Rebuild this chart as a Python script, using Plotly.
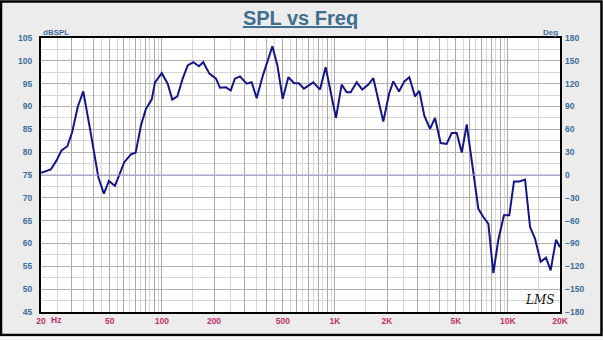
import numpy as np
import plotly.graph_objects as go

# ---- data ----
freq_hz = [20, 22.8, 24.6, 26.3, 28.4, 30.3, 32.6, 35.1, 38.4, 42.9, 46.2, 49.4, 53.5,
           60.6, 66.2, 70.5, 75.7, 80.9, 87.3, 91.2, 99.8, 108, 114.8, 122.7, 131.8,
           141, 151.8, 163.7, 173.4, 188, 205.4, 216.6, 234.6, 249.8, 264, 282.5, 309,
           330, 353, 382, 435, 465, 499, 538, 582, 619, 662, 750, 820, 884, 1014, 1094,
           1169, 1233, 1337, 1439, 1560, 1667, 1904, 2056, 2175, 2346, 2518, 2692, 2904,
           3076, 3286, 3546, 3790, 4084, 4426, 4732, 5058, 5408, 5780, 6180, 6746, 7212,
           7710, 8234, 8790, 9486, 10186, 10840, 11640, 12560, 13430, 14340, 15460,
           16600, 17660, 18960, 20000]
spl_db = [75.5, 76.2, 78.2, 80.4, 81.3, 84.4, 89.9, 93.3, 85.1, 74.5, 70.9, 73.7, 72.6,
          77.8, 79.5, 79.9, 85.9, 89.5, 91.5, 95.3, 97.3, 95.0, 91.5, 92.2, 96.1,
          99.0, 99.7, 98.8, 99.7, 97.2, 96.1, 94.1, 94.2, 93.5, 96.1, 96.6, 95.0,
          95.3, 91.8, 96.6, 103.2, 99.0, 91.7, 96.4, 95.1, 95.1, 93.9, 95.3, 93.7, 98.6,
          87.5, 94.8, 93.1, 93.1, 95.3, 93.7, 94.8, 96.2, 86.7, 92.8, 95.5, 93.3, 95.5,
          96.4, 92.2, 93.4, 88.0, 85.1, 87.5, 82.0, 81.8, 84.2, 84.2, 79.9, 86.1, 78.2,
          67.6, 65.8, 64.3, 53.5, 60.7, 66.2, 66.2, 73.6, 73.6, 74.0, 63.6, 61.1, 56.0,
          56.9, 54.1, 60.8, 59.2]

x_label_vals = [20, 50, 100, 200, 500, 1000, 2000, 5000, 10000, 20000]
x_label_text = ["20", "50", "100", "200", "500", "1K", "2K", "5K", "10K", "20K"]
spl_ticks = list(range(45, 106, 5))
deg_ticks = list(range(-180, 181, 30))
phase_ref_deg = 0

# grid values: integer multiples (major) and half multiples (minor) per decade
decades = [10, 100, 1000, 10000]
major_grid = sorted({m * d for d in decades for m in range(1, 10) if 20 <= m * d <= 20000})
minor_grid = sorted({(m + 0.5) * d for d in decades for m in range(1, 10) if 20 <= (m + 0.5) * d <= 20000})
x_text = [x_label_text[x_label_vals.index(v)] if v in x_label_vals else "" for v in major_grid]

BLUE = "#3a6d9c"
RED = "#c2306c"
FONT = "Liberation Sans, Arial, sans-serif"

fig = go.Figure()
fig.add_trace(go.Scatter(x=[freq_hz[0], freq_hz[-1]], y=[phase_ref_deg, phase_ref_deg],
                         yaxis="y2", mode="lines", line=dict(color="#a3a3dc", width=1),
                         hoverinfo="skip"))
fig.add_trace(go.Scatter(x=freq_hz, y=spl_db, mode="lines",
                         line=dict(color="#15158a", width=2)))

fig.update_layout(
    width=603, height=340,
    margin=dict(l=41, r=43, t=37.5, b=28),
    paper_bgcolor="#ececec", plot_bgcolor="#ffffff",
    showlegend=False,
    title=dict(text="<b><u>SPL vs Freq</u></b>", x=0.5, xanchor="center", xref="paper",
               y=0.947, yanchor="middle", yref="container",
               font=dict(family=FONT, size=20, color="#3e6f8e")),
    xaxis=dict(type="log", range=[np.log10(20), np.log10(20000)],
               tickmode="array", tickvals=major_grid, ticktext=x_text,
               tickfont=dict(family=FONT, size=8.5, color=RED, weight="bold"),
               showgrid=True, gridcolor="#a9a9a9", gridwidth=1,
               minor=dict(tickmode="array", tickvals=minor_grid, showgrid=True,
                          gridcolor="#d6d6d6", gridwidth=1, ticks=""),
               ticks="", showline=True, linecolor="#000000", linewidth=2, mirror=True,
               zeroline=False, ticklabelstandoff=0),
    yaxis=dict(range=[45, 105], tickmode="array", tickvals=spl_ticks,
               tickfont=dict(family=FONT, size=8.5, color=BLUE, weight="bold"),
               showgrid=True, gridcolor="#b0b0b0", gridwidth=1,
               minor=dict(dtick=2.5, showgrid=True, gridcolor="#d6d6d6", gridwidth=1, ticks=""),
               ticks="", showline=True, linecolor="#000000", linewidth=2, mirror=True,
               zeroline=False, ticklabelstandoff=5),
    yaxis2=dict(range=[-180, 180], overlaying="y", side="right", tickmode="array",
                tickvals=deg_ticks, showgrid=False, zeroline=False, ticks="",
                tickfont=dict(family=FONT, size=8.5, color=BLUE, weight="bold"),
                ticklabelstandoff=4),
    hovermode=False,
)

fig.add_annotation(text="<b>Hz</b>", xref="paper", yref="paper", x=0.029, y=-0.03,
                   xanchor="center", yanchor="middle", showarrow=False,
                   font=dict(family=FONT, size=8.5, color=RED))
fig.add_annotation(text="<b>dBSPL</b>", xref="paper", yref="paper", x=0.0, y=1.02,
                   xanchor="left", yanchor="middle", showarrow=False,
                   font=dict(family=FONT, size=8, color=BLUE))
fig.add_annotation(text="<b>Deg</b>", xref="paper", yref="paper", x=1.0, y=1.02,
                   xanchor="right", yanchor="middle", showarrow=False,
                   font=dict(family=FONT, size=8, color=BLUE))
fig.add_annotation(text="<i>LMS</i>", xref="paper", yref="paper", x=0.961, y=0.045,
                   xanchor="center", yanchor="middle", showarrow=False,
                   font=dict(family="DejaVu Serif, serif", size=12, color="#111111"))

# outer frame of the picture
fig.add_shape(type="rect", xref="paper", yref="paper",
              x0=(1 - 41) / 519, x1=(601.5 - 41) / 519,
              y0=(312 - 335) / 274.5, y1=(312 - 1) / 274.5,
              line=dict(color="#000000", width=2.5), layer="above")
fig.add_shape(type="rect", xref="paper", yref="paper",
              x0=(0 - 41) / 519, x1=(603 - 41) / 519,
              y0=(312 - 340) / 274.5, y1=(312 - 336.5) / 274.5,
              line=dict(width=0), fillcolor="#f4f4f4", layer="above")

fig.write_html("out.html")
